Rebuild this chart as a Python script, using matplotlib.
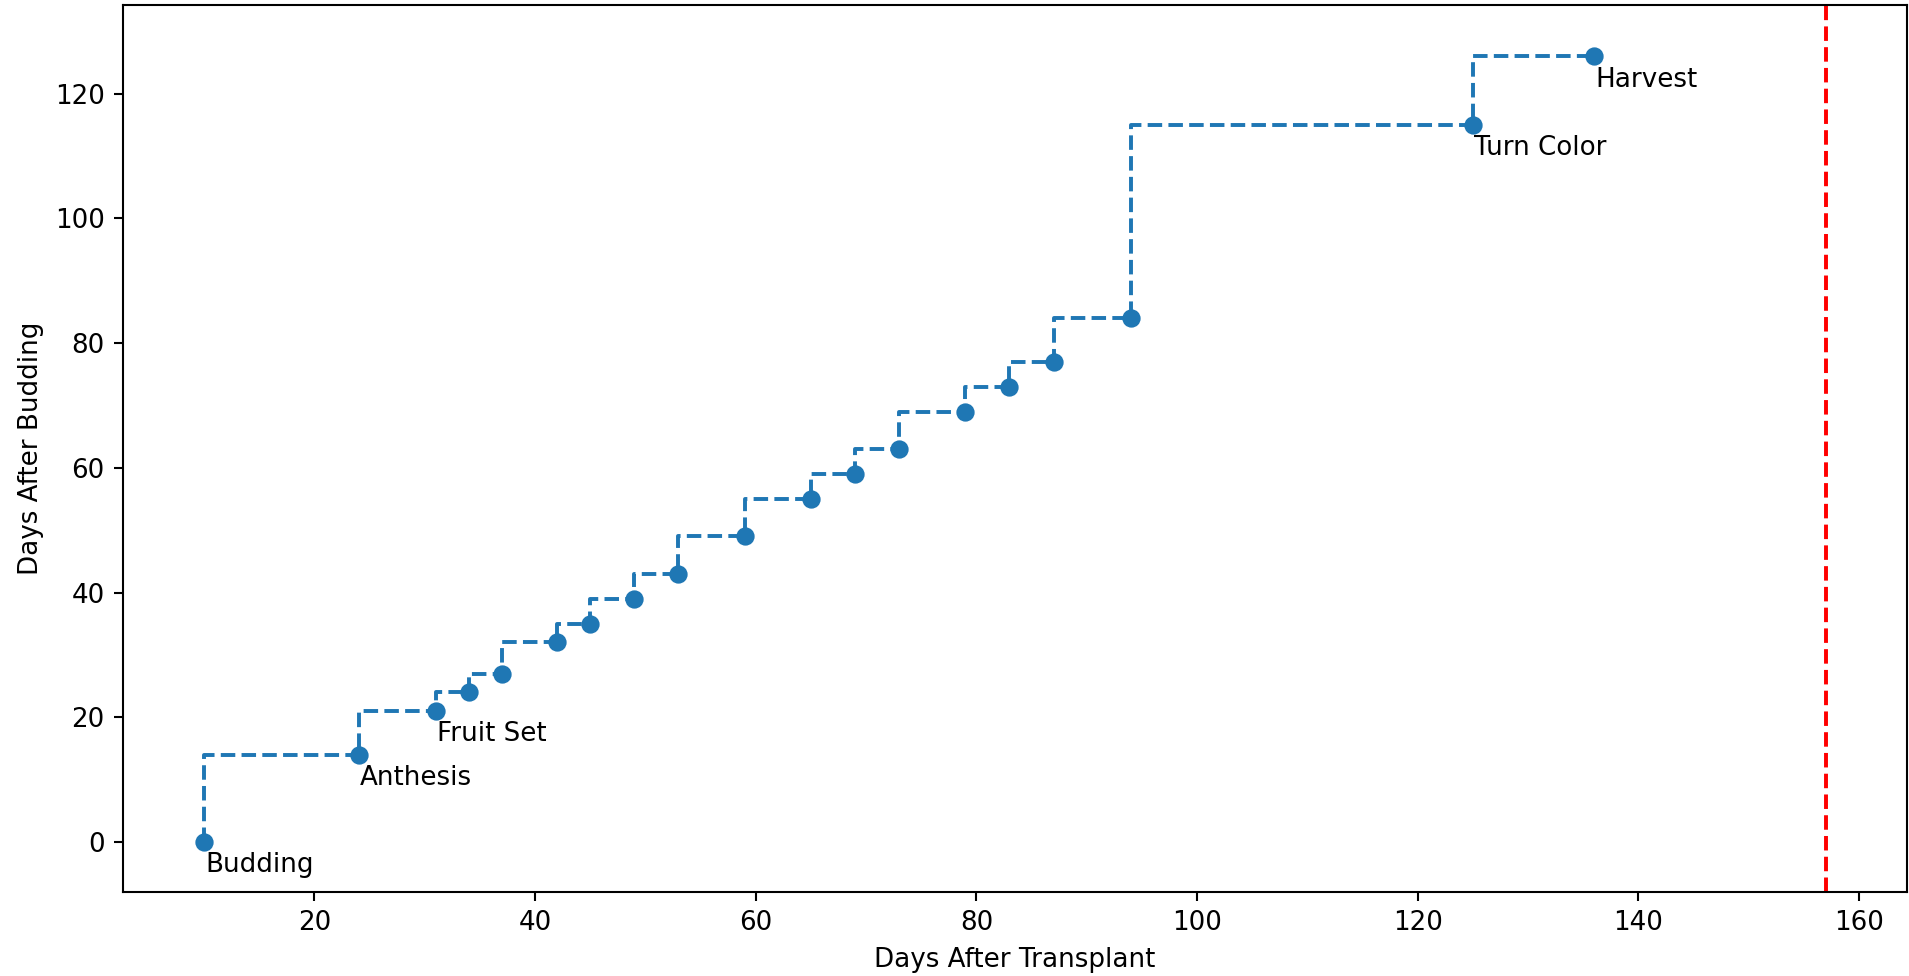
import matplotlib

matplotlib.use("Agg")
import matplotlib.pyplot as plt

# stage dates (days after transplant) and days after budding
days_transplant = [10, 24, 31, 34, 37, 42, 45, 49, 53, 59, 65, 69, 73, 79, 83, 87, 94, 125, 136]
days_budding = [0, 14, 21, 24, 27, 32, 35, 39, 43, 49, 55, 59, 63, 69, 73, 77, 84, 115, 126]
stage_names = ['Budding', 'Anthesis', 'Fruit Set', 'Turn Color', 'Harvest']
stage_index = [0, 1, 2, 17, 18]
today = 157

s = 1.88  # scale factor relative to default sizes
plt.rcParams['font.size'] = 10 * s

fig = plt.figure(figsize=(19.09, 9.76), dpi=100)
ax = fig.add_axes([0.0644, 0.0861, 0.9346, 0.9088])

ax.plot(days_transplant, days_budding, linestyle='--', drawstyle='steps-pre',
        color='#1f77b4', lw=1.5 * s)
ax.plot(days_transplant, days_budding, 'o', color='#1f77b4', ms=6 * s, mew=1.0 * s)
for name, i in zip(stage_names, stage_index):
    ax.annotate(name, (days_transplant[i], days_budding[i]), xytext=(1, -7.5),
                textcoords='offset points', ha='left', va='top')

ax.axvline(today, color='red', linestyle='--', lw=1.5 * s)

ax.set_ylim(-8, 134.2)
ax.set_xlabel('Days After Transplant')
ax.set_ylabel('Days After Budding')
ax.tick_params(width=0.8 * s, length=3.5 * s, pad=3.5 * s)
for sp in ax.spines.values():
    sp.set_linewidth(0.8 * s)
ax.xaxis.labelpad = 4 * s
ax.yaxis.labelpad = 4 * s

fig.savefig('out.png', dpi=100)
